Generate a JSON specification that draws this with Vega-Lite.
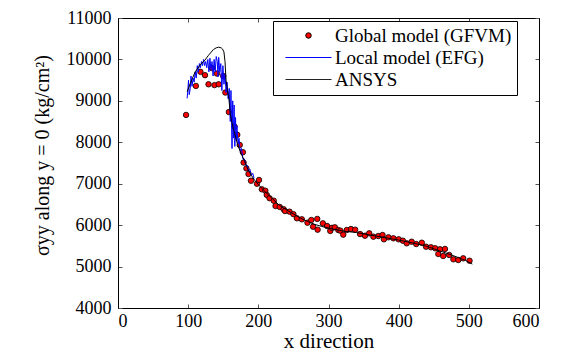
{
  "$schema": "https://vega.github.io/schema/vega-lite/v6.json",
  "width": 421,
  "height": 290,
  "autosize": "none",
  "padding": {"left": 118, "top": 18, "right": 27, "bottom": 44},
  "background": "white",
  "config": {
    "font": "Liberation Serif",
    "view": {"stroke": "black", "strokeWidth": 1},
    "axis": {
      "labelFont": "Liberation Serif", "labelFontSize": 18, "labelColor": "black",
      "titleFont": "Liberation Serif", "titleFontSize": 20, "titleFontWeight": "normal", "titleColor": "black",
      "domainColor": "black", "domainWidth": 1, "tickColor": "#555", "tickSize": -4, "grid": false
    },
    "legend": {
      "orient": "none", "legendX": 155, "legendY": 3, "title": null,
      "strokeColor": "black", "fillColor": "white", "padding": 5,
      "labelFont": "Liberation Serif", "labelFontSize": 19, "labelColor": "black", "labelLimit": 400,
      "symbolSize": 30, "symbolStrokeWidth": 1, "symbolOpacity": 1,
      "symbolOffset": 21, "labelOffset": 17, "rowPadding": 2
    }
  },
  "data": {"values": [
    {"s": "Global model (GFVM)", "x": 97, "y": 8660},
    {"s": "Global model (GFVM)", "x": 111, "y": 9360},
    {"s": "Global model (GFVM)", "x": 117.5, "y": 9700},
    {"s": "Global model (GFVM)", "x": 124, "y": 9620},
    {"s": "Global model (GFVM)", "x": 129, "y": 9400},
    {"s": "Global model (GFVM)", "x": 134, "y": 9790},
    {"s": "Global model (GFVM)", "x": 137.5, "y": 9380},
    {"s": "Global model (GFVM)", "x": 141, "y": 9660},
    {"s": "Global model (GFVM)", "x": 143.5, "y": 9400},
    {"s": "Global model (GFVM)", "x": 150, "y": 9600},
    {"s": "Global model (GFVM)", "x": 153, "y": 9200},
    {"s": "Global model (GFVM)", "x": 158, "y": 8730},
    {"s": "Global model (GFVM)", "x": 166, "y": 8380},
    {"s": "Global model (GFVM)", "x": 170, "y": 8180},
    {"s": "Global model (GFVM)", "x": 173.5, "y": 7935},
    {"s": "Global model (GFVM)", "x": 178, "y": 7760},
    {"s": "Global model (GFVM)", "x": 179, "y": 7510},
    {"s": "Global model (GFVM)", "x": 183, "y": 7370},
    {"s": "Global model (GFVM)", "x": 186, "y": 7235},
    {"s": "Global model (GFVM)", "x": 189.5, "y": 7072},
    {"s": "Global model (GFVM)", "x": 198, "y": 7000},
    {"s": "Global model (GFVM)", "x": 201, "y": 7090},
    {"s": "Global model (GFVM)", "x": 205, "y": 6865},
    {"s": "Global model (GFVM)", "x": 210, "y": 6830},
    {"s": "Global model (GFVM)", "x": 212, "y": 6730},
    {"s": "Global model (GFVM)", "x": 216, "y": 6650},
    {"s": "Global model (GFVM)", "x": 222, "y": 6590},
    {"s": "Global model (GFVM)", "x": 224.5, "y": 6462},
    {"s": "Global model (GFVM)", "x": 230.5, "y": 6440},
    {"s": "Global model (GFVM)", "x": 236, "y": 6385},
    {"s": "Global model (GFVM)", "x": 238, "y": 6340},
    {"s": "Global model (GFVM)", "x": 244.5, "y": 6325},
    {"s": "Global model (GFVM)", "x": 250, "y": 6265},
    {"s": "Global model (GFVM)", "x": 255, "y": 6165},
    {"s": "Global model (GFVM)", "x": 262, "y": 6141},
    {"s": "Global model (GFVM)", "x": 270, "y": 6059},
    {"s": "Global model (GFVM)", "x": 275.5, "y": 6124},
    {"s": "Global model (GFVM)", "x": 278, "y": 5962},
    {"s": "Global model (GFVM)", "x": 284, "y": 6150},
    {"s": "Global model (GFVM)", "x": 284.5, "y": 5890},
    {"s": "Global model (GFVM)", "x": 292, "y": 6043},
    {"s": "Global model (GFVM)", "x": 298, "y": 5979},
    {"s": "Global model (GFVM)", "x": 302.5, "y": 5860},
    {"s": "Global model (GFVM)", "x": 305, "y": 5935},
    {"s": "Global model (GFVM)", "x": 309, "y": 5947},
    {"s": "Global model (GFVM)", "x": 314, "y": 5882},
    {"s": "Global model (GFVM)", "x": 317, "y": 5866},
    {"s": "Global model (GFVM)", "x": 321, "y": 5770},
    {"s": "Global model (GFVM)", "x": 326, "y": 5882},
    {"s": "Global model (GFVM)", "x": 332, "y": 5906},
    {"s": "Global model (GFVM)", "x": 338, "y": 5890},
    {"s": "Global model (GFVM)", "x": 345, "y": 5785},
    {"s": "Global model (GFVM)", "x": 352, "y": 5745},
    {"s": "Global model (GFVM)", "x": 358, "y": 5802},
    {"s": "Global model (GFVM)", "x": 364, "y": 5721},
    {"s": "Global model (GFVM)", "x": 371, "y": 5737},
    {"s": "Global model (GFVM)", "x": 377, "y": 5762},
    {"s": "Global model (GFVM)", "x": 379, "y": 5658},
    {"s": "Global model (GFVM)", "x": 385.5, "y": 5706},
    {"s": "Global model (GFVM)", "x": 392.5, "y": 5682},
    {"s": "Global model (GFVM)", "x": 400, "y": 5658},
    {"s": "Global model (GFVM)", "x": 406, "y": 5624},
    {"s": "Global model (GFVM)", "x": 411.5, "y": 5561},
    {"s": "Global model (GFVM)", "x": 418.5, "y": 5600},
    {"s": "Global model (GFVM)", "x": 425, "y": 5544},
    {"s": "Global model (GFVM)", "x": 433, "y": 5576},
    {"s": "Global model (GFVM)", "x": 439, "y": 5480},
    {"s": "Global model (GFVM)", "x": 446, "y": 5466},
    {"s": "Global model (GFVM)", "x": 452, "y": 5442},
    {"s": "Global model (GFVM)", "x": 456.5, "y": 5304},
    {"s": "Global model (GFVM)", "x": 459, "y": 5417},
    {"s": "Global model (GFVM)", "x": 463.5, "y": 5255},
    {"s": "Global model (GFVM)", "x": 466, "y": 5425},
    {"s": "Global model (GFVM)", "x": 472, "y": 5280},
    {"s": "Global model (GFVM)", "x": 478, "y": 5175},
    {"s": "Global model (GFVM)", "x": 485, "y": 5158},
    {"s": "Global model (GFVM)", "x": 492, "y": 5199},
    {"s": "Global model (GFVM)", "x": 501, "y": 5141},

    {"s": "Local model (EFG)", "x": 98.5, "y": 9060},
    {"s": "Local model (EFG)", "x": 99.5, "y": 9250},
    {"s": "Local model (EFG)", "x": 100.5, "y": 9500},
    {"s": "Local model (EFG)", "x": 101.5, "y": 9150},
    {"s": "Local model (EFG)", "x": 103, "y": 9300},
    {"s": "Local model (EFG)", "x": 104, "y": 9600},
    {"s": "Local model (EFG)", "x": 105.5, "y": 9350},
    {"s": "Local model (EFG)", "x": 107, "y": 9550},
    {"s": "Local model (EFG)", "x": 108.5, "y": 9450},
    {"s": "Local model (EFG)", "x": 110, "y": 9700},
    {"s": "Local model (EFG)", "x": 111.5, "y": 9550},
    {"s": "Local model (EFG)", "x": 113, "y": 9850},
    {"s": "Local model (EFG)", "x": 114.5, "y": 9700},
    {"s": "Local model (EFG)", "x": 116, "y": 9900},
    {"s": "Local model (EFG)", "x": 117.5, "y": 9800},
    {"s": "Local model (EFG)", "x": 119, "y": 9950},
    {"s": "Local model (EFG)", "x": 120.5, "y": 9850},
    {"s": "Local model (EFG)", "x": 122, "y": 10000},
    {"s": "Local model (EFG)", "x": 123.5, "y": 9850},
    {"s": "Local model (EFG)", "x": 125, "y": 9950},
    {"s": "Local model (EFG)", "x": 126.5, "y": 9800},
    {"s": "Local model (EFG)", "x": 128, "y": 10000},
    {"s": "Local model (EFG)", "x": 129.5, "y": 9700},
    {"s": "Local model (EFG)", "x": 131, "y": 10030},
    {"s": "Local model (EFG)", "x": 132.5, "y": 9750},
    {"s": "Local model (EFG)", "x": 134, "y": 9950},
    {"s": "Local model (EFG)", "x": 135.5, "y": 9600},
    {"s": "Local model (EFG)", "x": 137, "y": 10000},
    {"s": "Local model (EFG)", "x": 138.5, "y": 9700},
    {"s": "Local model (EFG)", "x": 140, "y": 10070},
    {"s": "Local model (EFG)", "x": 141.5, "y": 9950},
    {"s": "Local model (EFG)", "x": 142.5, "y": 9580},
    {"s": "Local model (EFG)", "x": 143.5, "y": 10050},
    {"s": "Local model (EFG)", "x": 145, "y": 9700},
    {"s": "Local model (EFG)", "x": 146.5, "y": 9900},
    {"s": "Local model (EFG)", "x": 148, "y": 9250},
    {"s": "Local model (EFG)", "x": 149.5, "y": 9850},
    {"s": "Local model (EFG)", "x": 151, "y": 9400},
    {"s": "Local model (EFG)", "x": 152.5, "y": 9650},
    {"s": "Local model (EFG)", "x": 154, "y": 9200},
    {"s": "Local model (EFG)", "x": 155.5, "y": 9450},
    {"s": "Local model (EFG)", "x": 157, "y": 9050},
    {"s": "Local model (EFG)", "x": 158.5, "y": 9300},
    {"s": "Local model (EFG)", "x": 160, "y": 8500},
    {"s": "Local model (EFG)", "x": 161, "y": 9250},
    {"s": "Local model (EFG)", "x": 162.5, "y": 7850},
    {"s": "Local model (EFG)", "x": 163.5, "y": 9000},
    {"s": "Local model (EFG)", "x": 164.5, "y": 8100},
    {"s": "Local model (EFG)", "x": 165.5, "y": 8900},
    {"s": "Local model (EFG)", "x": 166.5, "y": 7900},
    {"s": "Local model (EFG)", "x": 167.5, "y": 8600},
    {"s": "Local model (EFG)", "x": 168.5, "y": 8050},
    {"s": "Local model (EFG)", "x": 169.5, "y": 8400},
    {"s": "Local model (EFG)", "x": 171, "y": 7950},
    {"s": "Local model (EFG)", "x": 172.5, "y": 8100},
    {"s": "Local model (EFG)", "x": 174, "y": 7800},
    {"s": "Local model (EFG)", "x": 176, "y": 7850},
    {"s": "Local model (EFG)", "x": 178, "y": 7600},
    {"s": "Local model (EFG)", "x": 180, "y": 7600},
    {"s": "Local model (EFG)", "x": 182, "y": 7450},
    {"s": "Local model (EFG)", "x": 184, "y": 7450},
    {"s": "Local model (EFG)", "x": 186, "y": 7300},
    {"s": "Local model (EFG)", "x": 188, "y": 7350},
    {"s": "Local model (EFG)", "x": 190, "y": 7200},
    {"s": "Local model (EFG)", "x": 192, "y": 7250},
    {"s": "Local model (EFG)", "x": 194, "y": 7130},

    {"s": "ANSYS", "x": 98.5, "y": 9220},
    {"s": "ANSYS", "x": 103, "y": 9420},
    {"s": "ANSYS", "x": 110, "y": 9700},
    {"s": "ANSYS", "x": 117, "y": 9865},
    {"s": "ANSYS", "x": 124, "y": 9985},
    {"s": "ANSYS", "x": 129, "y": 10100},
    {"s": "ANSYS", "x": 136, "y": 10240},
    {"s": "ANSYS", "x": 140, "y": 10280},
    {"s": "ANSYS", "x": 143.5, "y": 10295},
    {"s": "ANSYS", "x": 147, "y": 10280},
    {"s": "ANSYS", "x": 149, "y": 10250},
    {"s": "ANSYS", "x": 151, "y": 10180},
    {"s": "ANSYS", "x": 152.5, "y": 9950},
    {"s": "ANSYS", "x": 154, "y": 9500},
    {"s": "ANSYS", "x": 156, "y": 9250},
    {"s": "ANSYS", "x": 158, "y": 9050},
    {"s": "ANSYS", "x": 160, "y": 8700},
    {"s": "ANSYS", "x": 162, "y": 8500},
    {"s": "ANSYS", "x": 165, "y": 8290},
    {"s": "ANSYS", "x": 170, "y": 7970},
    {"s": "ANSYS", "x": 175, "y": 7740},
    {"s": "ANSYS", "x": 180, "y": 7560},
    {"s": "ANSYS", "x": 185, "y": 7350},
    {"s": "ANSYS", "x": 190, "y": 7200},
    {"s": "ANSYS", "x": 195, "y": 7080},
    {"s": "ANSYS", "x": 200, "y": 6980},
    {"s": "ANSYS", "x": 210, "y": 6800},
    {"s": "ANSYS", "x": 220, "y": 6640},
    {"s": "ANSYS", "x": 230, "y": 6480},
    {"s": "ANSYS", "x": 240, "y": 6370},
    {"s": "ANSYS", "x": 250, "y": 6270},
    {"s": "ANSYS", "x": 260, "y": 6170},
    {"s": "ANSYS", "x": 270, "y": 6090},
    {"s": "ANSYS", "x": 280, "y": 6020},
    {"s": "ANSYS", "x": 290, "y": 5970},
    {"s": "ANSYS", "x": 300, "y": 5930},
    {"s": "ANSYS", "x": 320, "y": 5860},
    {"s": "ANSYS", "x": 340, "y": 5820},
    {"s": "ANSYS", "x": 360, "y": 5760},
    {"s": "ANSYS", "x": 380, "y": 5700},
    {"s": "ANSYS", "x": 400, "y": 5640},
    {"s": "ANSYS", "x": 420, "y": 5570},
    {"s": "ANSYS", "x": 440, "y": 5490},
    {"s": "ANSYS", "x": 460, "y": 5370},
    {"s": "ANSYS", "x": 480, "y": 5250},
    {"s": "ANSYS", "x": 495, "y": 5150},
    {"s": "ANSYS", "x": 505, "y": 5060}
  ]},
  "layer": [
    {
      "transform": [{"filter": "datum.s === 'Global model (GFVM)'"}],
      "mark": {"type": "point", "filled": true, "size": 30, "opacity": 1, "strokeWidth": 0.8},
      "encoding": {
        "x": {"field": "x", "type": "quantitative", "scale": {"domain": [0, 600], "nice": false},
              "axis": {"orient": "bottom", "values": [0, 100, 200, 300, 400, 500, 600], "labelPadding": 8, "title": "x direction", "titlePadding": 0, "titleFontSize": 21}},
        "y": {"field": "y", "type": "quantitative", "scale": {"domain": [4000, 11000], "nice": false, "zero": false},
              "axis": {"orient": "left", "values": [4000, 5000, 6000, 7000, 8000, 9000, 10000, 11000], "format": "d", "labelPadding": 11, "title": "σyy along y = 0  (kg/cm²)", "titlePadding": 14, "titleY": 137}},
        "color": {"field": "s", "type": "nominal",
          "scale": {"domain": ["Global model (GFVM)", "Local model (EFG)", "ANSYS"], "range": ["#ff0000", "#0000ff", "#000000"]}},
        "stroke": {"field": "s", "type": "nominal",
          "scale": {"domain": ["Global model (GFVM)", "Local model (EFG)", "ANSYS"], "range": ["#000000", "#0000ff", "#222222"]}},
        "shape": {"field": "s", "type": "nominal",
          "scale": {"domain": ["Global model (GFVM)", "Local model (EFG)", "ANSYS"], "range": ["circle", "M-8.4,0H8.4", "M-8.4,0H8.4"]}}
      }
    },
    {
      "transform": [{"filter": "datum.s === 'Local model (EFG)'"}],
      "mark": {"type": "line", "strokeWidth": 1, "color": "#0000ff"},
      "encoding": {
        "x": {"field": "x", "type": "quantitative", "scale": {"domain": [0, 600], "nice": false}, "axis": null},
        "y": {"field": "y", "type": "quantitative", "scale": {"domain": [4000, 11000], "nice": false, "zero": false}, "axis": null}
      }
    },
    {
      "transform": [{"filter": "datum.s === 'ANSYS'"}],
      "mark": {"type": "line", "strokeWidth": 1, "color": "#000000"},
      "encoding": {
        "x": {"field": "x", "type": "quantitative", "scale": {"domain": [0, 600], "nice": false},
              "axis": {"orient": "top", "values": [0, 100, 200, 300, 400, 500, 600], "labels": false, "title": null}},
        "y": {"field": "y", "type": "quantitative", "scale": {"domain": [4000, 11000], "nice": false, "zero": false},
              "axis": {"orient": "right", "values": [4000, 5000, 6000, 7000, 8000, 9000, 10000, 11000], "labels": false, "title": null}}
      }
    }
  ],
  "resolve": {"scale": {"x": "independent", "y": "independent"}}
}
